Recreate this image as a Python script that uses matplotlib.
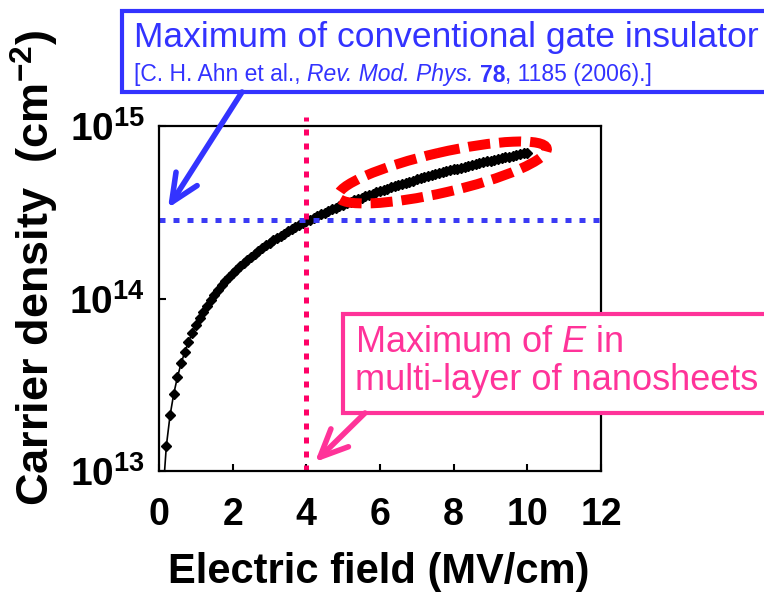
import numpy as np
import matplotlib.pyplot as plt
from matplotlib.patches import Rectangle, Ellipse
from matplotlib.ticker import FixedLocator, NullLocator, FuncFormatter

plt.rcParams['font.family'] = ['Liberation Sans', 'DejaVu Sans']
plt.rcParams['mathtext.fontset'] = 'custom'
plt.rcParams['mathtext.rm'] = 'Liberation Sans'
plt.rcParams['mathtext.it'] = 'Liberation Sans:italic'
plt.rcParams['mathtext.bf'] = 'Liberation Sans:bold'

# electric field (MV/cm) and carrier density (1e13 cm^-2)
field = [0.1, 0.2, 0.3, 0.4, 0.5, 0.6, 0.7, 0.8, 0.9, 1.0,
         1.1, 1.2, 1.3, 1.4, 1.5, 1.6, 1.7, 1.8, 1.9, 2.0,
         2.1, 2.2, 2.3, 2.4, 2.5, 2.6, 2.7, 2.8, 2.9, 3.0,
         3.1, 3.2, 3.3, 3.4, 3.5, 3.6, 3.7, 3.8, 3.9, 4.0,
         4.1, 4.2, 4.3, 4.4, 4.5, 4.6, 4.7, 4.8, 4.9, 5.0,
         5.1, 5.2, 5.3, 5.4, 5.5, 5.6, 5.7, 5.8, 5.9, 6.0,
         6.1, 6.2, 6.3, 6.4, 6.5, 6.6, 6.7, 6.8, 6.9, 7.0,
         7.1, 7.2, 7.3, 7.4, 7.5, 7.6, 7.7, 7.8, 7.9, 8.0,
         8.1, 8.2, 8.3, 8.4, 8.5, 8.6, 8.7, 8.8, 8.9, 9.0,
         9.1, 9.2, 9.3, 9.4, 9.5, 9.6, 9.7, 9.8, 9.9, 10.0]
density = [0.7, 1.4, 2.1, 2.8, 3.5, 4.2, 4.9, 5.6, 6.3, 7.0,
           7.7, 8.4, 9.1, 9.8, 10.5, 11.2, 11.9, 12.6, 13.3, 14.0,
           14.7, 15.4, 16.1, 16.8, 17.5, 18.2, 18.9, 19.6, 20.3, 21.0,
           21.7, 22.4, 23.1, 23.8, 24.5, 25.2, 25.9, 26.6, 27.3, 28.0,
           28.7, 29.4, 30.1, 30.8, 31.5, 32.2, 32.9, 33.6, 34.3, 35.0,
           35.7, 36.4, 37.1, 37.8, 38.5, 39.2, 39.9, 40.6, 41.3, 42.0,
           42.7, 43.4, 44.1, 44.8, 45.5, 46.2, 46.9, 47.6, 48.3, 49.0,
           49.7, 50.4, 51.1, 51.8, 52.5, 53.2, 53.9, 54.6, 55.3, 56.0,
           56.7, 57.4, 58.1, 58.8, 59.5, 60.2, 60.9, 61.6, 62.3, 63.0,
           63.7, 64.4, 65.1, 65.8, 66.5, 67.2, 67.9, 68.6, 69.3, 70.0]
gate_limit = 2.87e14   # max of conventional gate insulator
field_limit = 4.0      # max E in multi-layer of nanosheets
x_ticks = [0, 2, 4, 6, 8, 10, 12]
y_ticks = [1e13, 1e14, 1e15]

blue = '#3333ff'
pink = '#ff3399'

fig = plt.figure(figsize=(7.64, 5.98), dpi=100)
ax = fig.add_axes([159/764, 1 - 471/598, 442/764, 345/598])
ax.plot(field, np.array(density) * 1e13, 'k-', lw=1.2, marker='D', ms=5.5, mfc='k', mec='k')
ax.set_yscale('log')
ax.set_xlim(0, 12)
ax.set_ylim(1e13, 1e15)

# dotted guide lines
ax.axhline(gate_limit, color='#3b3bf5', lw=3.6, ls=(0, (1.2, 1.6)))
ax.axvline(field_limit, ymax=1.025, color='#ff0066', lw=3.6, ls=(0, (1.2, 1.6)), clip_on=False)

ax.xaxis.set_major_locator(FixedLocator(x_ticks))
ax.yaxis.set_major_locator(FixedLocator(y_ticks))
ax.yaxis.set_minor_locator(NullLocator())
ax.yaxis.set_major_formatter(FuncFormatter(lambda v, p: r'$\mathbf{10^{%d}}$' % round(np.log10(v))))
ax.tick_params(direction='in', length=5, width=1.5)
ax.tick_params(axis='x', pad=19, labelsize=27)
ax.tick_params(axis='y', pad=10, labelsize=28)
for lab in ax.get_xticklabels():
    lab.set_fontweight('bold')
for s in ax.spines.values():
    s.set_linewidth(1.6)

# overlay in pixel coords for the callouts
ov = fig.add_axes([0, 0, 1, 1], zorder=5)
ov.set_xlim(0, 764)
ov.set_ylim(598, 0)
ov.axis('off')
ov.patch.set_alpha(0)

ov.text(379, 572, 'Electric field (MV/cm)', ha='center', va='center', fontsize=30, fontweight='bold')
ov.text(35, 268, r'Carrier density  (cm$^{\mathbf{-2}}$)', ha='center', va='center',
        rotation=90, fontsize=32.5, fontweight='bold')

ov.add_patch(Rectangle((122, 11), 700, 81, facecolor='white', edgecolor=blue, lw=3))
ov.text(134, 38, 'Maximum of conventional gate insulator', color=blue, fontsize=25.5, va='center')
ref1 = ov.text(134, 75, '[C. H. Ahn et al., ', color=blue, fontsize=16.5, va='center')
ref2 = ov.annotate('Rev. Mod. Phys. ', xy=(1, 0), xycoords=ref1, va='bottom', color=blue,
                   fontsize=16.5, style='italic')
ref3 = ov.annotate('78', xy=(1, 0), xycoords=ref2, va='bottom', color=blue,
                   fontsize=16.5, fontweight='bold')
ov.annotate(', 1185 (2006).]', xy=(1, 0), xycoords=ref3, va='bottom', color=blue, fontsize=16.5)
ov.annotate('', xy=(168, 208), xytext=(242, 92),
            arrowprops=dict(arrowstyle='->,head_length=2.0,head_width=0.9', color=blue, lw=4,
                            shrinkA=0, shrinkB=0))

ov.add_patch(Rectangle((343, 314), 500, 99, facecolor='white', edgecolor=pink, lw=3))
ov.text(355, 342, r'Maximum of $\mathit{E}$ in', color=pink, fontsize=26, va='center')
ov.text(355, 381, 'multi-layer of nanosheets', color=pink, fontsize=26, va='center')
ov.annotate('', xy=(315, 462), xytext=(365, 413),
            arrowprops=dict(arrowstyle='->,head_length=2.0,head_width=0.9', color=pink, lw=4,
                            shrinkA=0, shrinkB=0))

ov.add_patch(Ellipse((442.5, 172.5), 214, 40, angle=-13, fill=False, edgecolor='#ff0000',
                     lw=7.2, ls=(0, (2.2, 0.9))))

fig.savefig('out.png', dpi=100)
